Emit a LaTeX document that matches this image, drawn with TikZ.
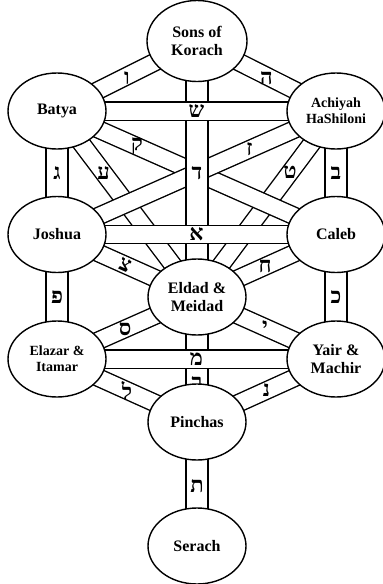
\documentclass[tikz,border=0pt]{standalone}
\usetikzlibrary{shapes.geometric}
\usepackage{fontspec}
\setmainfont{Liberation Serif}
\newfontfamily\heb[Script=Hebrew]{Liberation Serif}
\begin{document}
\begin{tikzpicture}[x=1pt,y=-1pt,
  barbase/.style={draw=black,line width=1.4pt,double=white},
  diagbar/.style={barbase,double distance=16pt},
  vbar/.style={barbase,double distance=20.5pt},
  hbar/.style={barbase,double distance=17pt},
  circ/.style={draw=black,line width=1.4pt,fill=white,ellipse,minimum width=98pt,minimum height=76pt,inner sep=0pt,align=center,font=\bfseries\fontsize{16}{18}\selectfont},
  smallcirc/.style={circ,font=\bfseries\fontsize{14}{16}\selectfont},
  let/.style={font=\heb\bfseries\fontsize{22}{22}\selectfont,inner sep=0pt}
]
\useasboundingbox (0,0) rectangle (383,584);
\fill[white] (0,0) rectangle (383,584);
% centres
\coordinate (sons) at (197,41);
\coordinate (bat) at (57,111);
\coordinate (ach) at (336,111);
\coordinate (jos) at (57,234.5);
\coordinate (cal) at (336,234.5);
\coordinate (eld) at (197,297);
\coordinate (ela) at (57,359);
\coordinate (yai) at (336,359);
\coordinate (pin) at (197,422);
\coordinate (ser) at (197,546);
% lower diagonal bars
\draw[diagbar] (sons) -- node[let,pos=0.5,yshift=-2pt] {ו} (bat);
\draw[diagbar] (sons) -- node[let,pos=0.5,yshift=-2pt] {ה} (ach);
\draw[diagbar] (bat) -- node[let,pos=0.333] {ע} (eld);
\draw[diagbar] (ach) -- node[let,pos=0.33] {ט} (eld);
\draw[diagbar] (jos) -- node[let,pos=0.486,rotate=-24] {צ} (eld);
\draw[diagbar] (cal) -- node[let,pos=0.51] {ח} (eld);
\draw[diagbar] (ela) -- node[let,pos=0.486] {ס} (eld);
\draw[diagbar] (yai) -- node[let,pos=0.51] {י} (eld);
\draw[diagbar] (ela) -- node[let,pos=0.5] {ל} (pin);
\draw[diagbar] (yai) -- node[let,pos=0.5] {נ} (pin);
% long diagonals
\draw[diagbar] (bat) -- node[let,pos=0.287] {ק} (cal);
\draw[diagbar] (ach) -- node[let,pos=0.31] {ז} (jos);
% vertical bars
\draw[vbar] (sons) -- node[let,pos=0.516] {ד} (eld);
\draw[vbar] (eld) -- node[let,pos=0.685] {ר} (pin);
\draw[vbar] (pin) -- node[let,pos=0.52] {ת} (ser);
\draw[vbar] (bat) -- node[let,pos=0.5] {ג} (jos);
\draw[vbar] (ach) -- node[let,pos=0.5] {ב} (cal);
\draw[vbar] (jos) -- node[let,pos=0.5] {פ} (ela);
\draw[vbar] (cal) -- node[let,pos=0.5] {כ} (yai);
% horizontal bars
\draw[hbar] (bat) -- node[let,pos=0.5] {ש} (ach);
\draw[hbar] (jos) -- node[let,pos=0.5] {א} (cal);
\draw[hbar] (ela) -- node[let,pos=0.5] {מ} (yai);
% circles
\node[circ,minimum height=81pt,minimum width=100pt] (sonsN) at (sons) {Sons of\\Korach};
\node[circ] (batN) at (bat) {Batya};
\node[smallcirc] (achN) at (ach) {Achiyah\\HaShiloni};
\node[circ] (josN) at (jos) {Joshua};
\node[circ] (calN) at (cal) {Caleb};
\node[circ] (eldN) at (eld) {Eldad \&\\Meidad};
\node[smallcirc] (elaN) at (ela) {Elazar \&\\Itamar};
\node[circ] (yaiN) at (yai) {Yair \&\\Machir};
\node[circ] (pinN) at (pin) {Pinchas};
\node[circ] (serN) at (ser) {Serach};
\end{tikzpicture}
\end{document}
